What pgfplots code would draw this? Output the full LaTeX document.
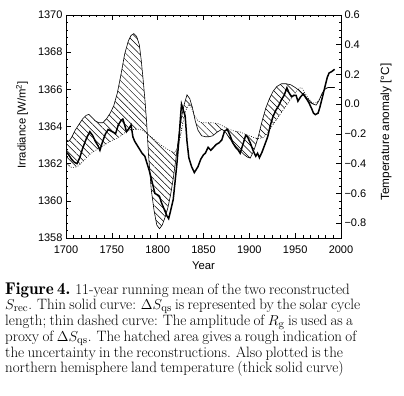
\documentclass[border=0pt]{standalone}
\usepackage{pgfplots}
\pgfplotsset{compat=1.18}
\usetikzlibrary{patterns.meta}
\usepackage[no-math]{fontspec}
\setmainfont{Liberation Sans}
\newcommand\capfont{\fontfamily{lmr}\selectfont}

\pgfplotstableread{
x y
1700 1363.3
1703 1363.2
1706 1363.4
1710 1363.8
1714 1364.1
1718 1364.4
1722 1364.6
1725 1364.65
1728 1364.5
1732 1364.3
1736 1364.2
1740 1364.2
1744 1364.4
1748 1364.7
1752 1365.1
1756 1365.8
1760 1366.8
1764 1367.9
1768 1368.6
1771 1368.9
1774 1369.0
1777 1368.85
1780 1368.4
1782 1367.6
1784 1366.6
1786 1365.5
1788 1364.2
1790 1362.5
1793 1360.6
1796 1359.5
1799 1358.7
1802 1358.5
1805 1358.7
1808 1359.1
1811 1359.6
1814 1360.3
1817 1361.2
1820 1362.3
1823 1363.5
1826 1364.5
1829 1365.2
1832 1365.7
1835 1365.5
1838 1365.0
1841 1364.3
1844 1363.8
1848 1363.5
1852 1363.45
1856 1363.45
1860 1363.5
1865 1363.7
1870 1363.85
1874 1363.7
1878 1363.4
1882 1363.1
1886 1362.9
1890 1362.7
1894 1362.5
1898 1362.35
1901 1362.3
1904 1362.6
1907 1363.0
1910 1363.5
1914 1364.3
1918 1365.0
1922 1365.5
1926 1365.9
1930 1366.15
1935 1366.3
1940 1366.3
1945 1366.25
1950 1366.1
1954 1365.95
1958 1365.75
1962 1365.5
1966 1365.3
1970 1365.2
1973 1365.15
1976 1365.4
1979 1365.75
1982 1366.0
1986 1366.1
1993 1366.1
}\solidtab

\pgfplotstableread{
x y
1700 1362.1
1703 1361.9
1706 1361.8
1710 1361.8
1714 1361.9
1718 1362.1
1722 1362.3
1726 1362.5
1730 1362.65
1735 1362.8
1740 1362.95
1745 1363.1
1750 1363.25
1755 1363.35
1760 1363.5
1765 1363.7
1770 1363.8
1775 1363.85
1780 1363.85
1785 1363.75
1790 1363.55
1795 1363.35
1800 1363.15
1805 1362.95
1810 1362.8
1815 1362.65
1819 1362.6
1822 1362.9
1825 1363.5
1828 1364.3
1831 1364.9
1834 1365.2
1837 1365.0
1840 1364.6
1844 1364.3
1848 1364.2
1855 1364.2
1860 1364.2
1866 1364.15
1870 1364.05
1874 1363.95
1878 1363.85
1884 1363.75
1890 1363.7
1895 1363.6
1900 1363.5
1905 1363.4
1910 1363.35
1915 1363.4
1920 1363.65
1925 1364.05
1930 1364.4
1935 1364.75
1940 1365.1
1945 1365.45
1950 1365.8
1954 1366.05
1957 1366.1
1960 1365.85
1964 1365.55
1968 1365.3
1971 1365.25
1974 1365.3
1977 1365.5
1980 1365.8
1983 1366.05
1986 1366.1
1993 1366.1
}\dashtab

% hatched band: solid curve forward, dashed curve backward
\pgfplotstableread{
x y
1700 1363.3
1703 1363.2
1706 1363.4
1710 1363.8
1714 1364.1
1718 1364.4
1722 1364.6
1725 1364.65
1728 1364.5
1732 1364.3
1736 1364.2
1740 1364.2
1744 1364.4
1748 1364.7
1752 1365.1
1756 1365.8
1760 1366.8
1764 1367.9
1768 1368.6
1771 1368.9
1774 1369.0
1777 1368.85
1780 1368.4
1782 1367.6
1784 1366.6
1786 1365.5
1788 1364.2
1790 1362.5
1793 1360.6
1796 1359.5
1799 1358.7
1802 1358.5
1805 1358.7
1808 1359.1
1811 1359.6
1814 1360.3
1817 1361.2
1820 1362.3
1823 1363.5
1826 1364.5
1829 1365.2
1832 1365.7
1835 1365.5
1838 1365.0
1841 1364.3
1844 1363.8
1848 1363.5
1852 1363.45
1856 1363.45
1860 1363.5
1865 1363.7
1870 1363.85
1874 1363.7
1878 1363.4
1882 1363.1
1886 1362.9
1890 1362.7
1894 1362.5
1898 1362.35
1901 1362.3
1904 1362.6
1907 1363.0
1910 1363.5
1914 1364.3
1918 1365.0
1922 1365.5
1926 1365.9
1930 1366.15
1935 1366.3
1940 1366.3
1945 1366.25
1950 1366.1
1954 1365.95
1958 1365.75
1962 1365.5
1966 1365.3
1970 1365.2
1973 1365.15
1976 1365.4
1979 1365.75
1982 1366.0
1986 1366.1
1993 1366.1
1993 1366.1
1986 1366.1
1983 1366.05
1980 1365.8
1977 1365.5
1974 1365.3
1971 1365.25
1968 1365.3
1964 1365.55
1960 1365.85
1957 1366.1
1954 1366.05
1950 1365.8
1945 1365.45
1940 1365.1
1935 1364.75
1930 1364.4
1925 1364.05
1920 1363.65
1915 1363.4
1910 1363.35
1905 1363.4
1900 1363.5
1895 1363.6
1890 1363.7
1884 1363.75
1878 1363.85
1874 1363.95
1870 1364.05
1866 1364.15
1860 1364.2
1855 1364.2
1848 1364.2
1844 1364.3
1840 1364.6
1837 1365.0
1834 1365.2
1831 1364.9
1828 1364.3
1825 1363.5
1822 1362.9
1819 1362.6
1815 1362.65
1810 1362.8
1805 1362.95
1800 1363.15
1795 1363.35
1790 1363.55
1785 1363.75
1780 1363.85
1775 1363.85
1770 1363.8
1765 1363.7
1760 1363.5
1755 1363.35
1750 1363.25
1745 1363.1
1740 1362.95
1735 1362.8
1730 1362.65
1726 1362.5
1722 1362.3
1718 1362.1
1714 1361.9
1710 1361.8
1706 1361.8
1703 1361.9
1700 1362.1
}\hatchtab

\pgfplotstableread{
x y
1700 -0.32
1703 -0.34
1706 -0.37
1709 -0.39
1712 -0.40
1715 -0.36
1718 -0.30
1721 -0.25
1723 -0.22
1726 -0.185
1729 -0.21
1732 -0.25
1735 -0.28
1737 -0.31
1740 -0.25
1743 -0.20
1746 -0.17
1749 -0.18
1752 -0.19
1754 -0.20
1757 -0.14
1760 -0.11
1762 -0.10
1764 -0.14
1766 -0.185
1769 -0.16
1771 -0.14
1773 -0.22
1775 -0.25
1777 -0.27
1780 -0.30
1783 -0.33
1786 -0.35
1789 -0.41
1791 -0.45
1793 -0.50
1795 -0.55
1797 -0.60
1800 -0.61
1802 -0.62
1804 -0.66
1806 -0.69
1808 -0.72
1810 -0.75
1812 -0.77
1814 -0.72
1817 -0.64
1819 -0.52
1821 -0.40
1823 -0.25
1825 -0.08
1826 0.00
1828 -0.04
1830 -0.08
1832 -0.25
1834 -0.36
1837 -0.42
1840 -0.46
1842 -0.44
1844 -0.42
1847 -0.37
1850 -0.34
1852 -0.33
1855 -0.29
1858 -0.31
1861 -0.29
1864 -0.27
1867 -0.26
1870 -0.24
1873 -0.18
1876 -0.17
1879 -0.21
1882 -0.26
1885 -0.29
1888 -0.31
1890 -0.33
1893 -0.27
1896 -0.21
1898 -0.22
1901 -0.26
1904 -0.31
1907 -0.35
1909 -0.33
1911 -0.36
1914 -0.32
1917 -0.27
1920 -0.22
1923 -0.14
1926 -0.08
1929 -0.04
1932 -0.01
1935 0.03
1938 0.06
1941 0.11
1943 0.08
1946 0.05
1949 0.06
1951 0.06
1953 0.02
1956 0.05
1959 0.07
1962 0.04
1965 0.01
1968 -0.03
1970 -0.06
1972 -0.07
1975 -0.06
1977 -0.02
1979 0.03
1981 0.08
1983 0.13
1985 0.18
1987 0.21
1990 0.22
1993 0.235
}\temptab

\begin{document}
\begin{tikzpicture}
\useasboundingbox (0bp,0bp) rectangle (404bp,396bp);
\pgfplotsset{
  myaxis/.style={
    at={(66bp,158bp)}, anchor=south west,
    scale only axis, width=275bp, height=223bp,
    xmin=1700, xmax=2000,
    tick align=inside,
    major tick length=5bp, minor tick length=2.5bp,
    tick style={black, line width=0.5bp},
    axis line style={line width=0.6bp},
    every tick label/.append style={font=\fontsize{11bp}{13bp}\selectfont},
    every axis label/.append style={font=\fontsize{11.3bp}{13bp}\selectfont},
  }
}
\begin{axis}[myaxis,
  ymin=1358, ymax=1370,
  ytick pos=left,
  xtick={1700,1750,1800,1850,1900,1950,2000},
  xticklabels={1700,1750,1800,1850,1900,1950,2000},
  xticklabel style={yshift=-4.5bp},
  minor x tick num=5,
  ytick={1358,1360,1362,1364,1366,1368,1370},
  yticklabels={1358,1360,1362,1364,1366,1368,1370},
  minor y tick num=4,
  xlabel={Year},
  ylabel={Irradiance [W/m\textsuperscript{2}]},
  every axis x label/.style={at={(axis description cs:0.5,-0.125)}, anchor=center, font=\fontsize{11.3bp}{13bp}\selectfont},
  every axis y label/.style={at={(axis description cs:-0.16,0.507)}, rotate=90, anchor=center, font=\fontsize{11.3bp}{13bp}\selectfont},
]
\addplot[draw=none, pattern={Lines[angle=-45,distance=4.6bp,line width=0.5bp]}] table {\hatchtab};
\addplot[black, line width=0.6bp] table {\solidtab};
\addplot[black, line width=0.6bp, dash pattern=on 0.8bp off 1.6bp] table {\dashtab};
\end{axis}
\begin{axis}[myaxis,
  ymin=-0.9, ymax=0.6,
  axis x line=none, axis y line*=right,
  ytick={-0.8,-0.6,-0.4,-0.2,0,0.2,0.4,0.6},
  yticklabels={−0.8,−0.6,−0.4,−0.2,0.0,0.2,0.4,0.6},
  minor y tick num=3,
  ylabel={Temperature anomaly [°C]},
  every axis y label/.style={at={(axis description cs:1.164,0.475)}, rotate=90, anchor=center, font=\fontsize{11.8bp}{13bp}\selectfont},
]
\addplot[black, line width=1.5bp] table {\temptab};
\end{axis}
\node[anchor=north west, inner sep=0pt, text width=395bp] at (5bp,113bp) {%
\capfont\fontsize{15bp}{19.5bp}\selectfont\noindent\rightskip=0pt\parfillskip=0pt
{\fontsize{17bp}{19.5bp}\selectfont\bfseries Figure 4.} 11-year running mean of the two reconstructed\linebreak
$S_{\rm rec}$. Thin solid curve: $\Delta S_{\rm qs}$ is represented by the solar cycle\linebreak
length; thin dashed curve: The amplitude of $R_{\rm g}$ is used as a\linebreak
proxy of $\Delta S_{\rm qs}$. The hatched area gives a rough indication of\linebreak
the uncertainty in the reconstructions. Also plotted is the\linebreak
northern hemisphere land temperature (thick solid curve)};
\end{tikzpicture}
\end{document}
